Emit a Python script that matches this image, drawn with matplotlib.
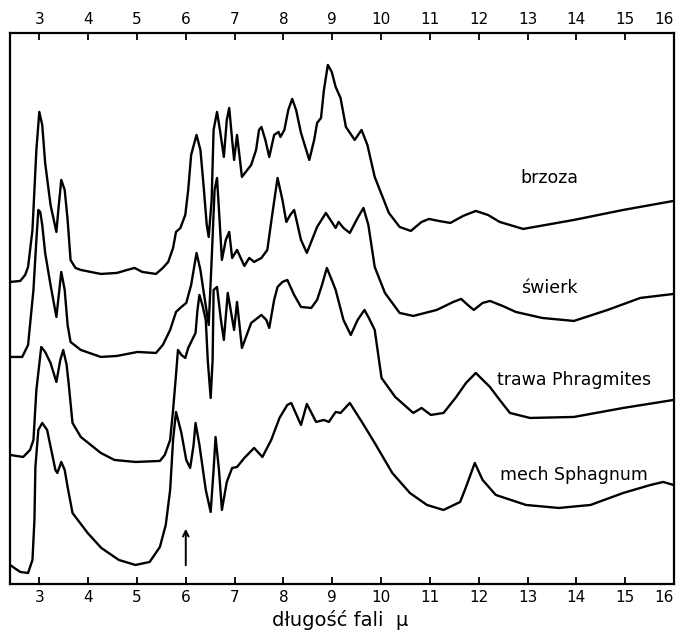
import matplotlib
matplotlib.use("Agg")
import matplotlib.pyplot as plt

# wavelength (micron) and relative height of each trace
brzoza_x = [2.40, 2.61, 2.71, 2.77, 2.86, 2.94, 3.00, 3.06, 3.12, 3.23, 3.35, 3.39, 3.45, 3.52, 3.58,
            3.64, 3.74, 3.85, 4.26, 4.59, 4.80, 4.95, 5.11, 5.39, 5.53, 5.64, 5.74, 5.80, 5.89, 5.99,
            6.05, 6.11, 6.22, 6.30, 6.36, 6.43, 6.47, 6.53, 6.57, 6.64, 6.70, 6.78, 6.84, 6.89, 6.95,
            6.99, 7.05, 7.11, 7.15, 7.34, 7.44, 7.50, 7.55, 7.63, 7.71, 7.81, 7.90, 7.94, 8.02, 8.10,
            8.18, 8.26, 8.36, 8.53, 8.63, 8.69, 8.77, 8.83, 8.91, 8.99, 9.07, 9.17, 9.28, 9.46, 9.60,
            9.72, 9.87, 10.16, 10.38, 10.61, 10.83, 10.98, 11.18, 11.42, 11.68, 11.94, 12.19, 12.43,
            12.91, 13.95, 14.96, 15.99]
brzoza_y = [302, 303, 309, 317, 354, 434, 472, 459, 421, 379, 352, 374, 404, 394, 364,
            324, 316, 314, 310, 311, 314, 316, 312, 310, 316, 322, 336, 352, 356, 369,
            394, 429, 449, 434, 401, 359, 347, 384, 454, 472, 454, 427, 464, 476, 444,
            424, 449, 424, 407, 419, 434, 454, 457, 444, 427, 449, 452, 447, 454, 474,
            485, 474, 451, 424, 444, 461, 466, 494, 519, 512, 497, 486, 457, 444, 454,
            439, 407, 371, 357, 353, 362, 365, 363, 361, 368, 373, 369, 362,
            355, 364, 374, 383]

swierk_x = [2.40, 2.65, 2.77, 2.88, 2.94, 2.98, 3.02, 3.06, 3.12, 3.23, 3.35, 3.41, 3.45, 3.52, 3.58,
            3.64, 3.85, 4.26, 4.59, 5.01, 5.39, 5.53, 5.68, 5.80, 5.91, 6.01, 6.11, 6.22, 6.30, 6.36,
            6.47, 6.53, 6.59, 6.64, 6.68, 6.74, 6.82, 6.89, 6.95, 7.05, 7.20, 7.30, 7.40, 7.55, 7.67,
            7.77, 7.88, 7.98, 8.06, 8.14, 8.22, 8.36, 8.48, 8.69, 8.87, 9.07, 9.13, 9.23, 9.36, 9.52,
            9.64, 9.74, 9.87, 10.08, 10.38, 10.66, 11.14, 11.48, 11.64, 11.80, 11.90, 12.08, 12.23,
            12.49, 12.76, 13.30, 13.95, 14.64, 15.31, 15.99]
swierk_y = [227, 227, 239, 294, 344, 374, 372, 359, 331, 299, 267, 294, 312, 294, 259,
            242, 234, 227, 228, 232, 231, 239, 254, 272, 277, 281, 299, 331, 314, 294,
            259, 324, 394, 406, 374, 324, 344, 352, 326, 334, 318, 326, 322, 326, 334,
            369, 406, 384, 362, 369, 374, 344, 331, 357, 371, 356, 362, 356, 351, 366,
            376, 359, 317, 291, 271, 268, 274, 282, 285, 278, 274, 281, 283,
            278, 272, 266, 263, 274, 286, 290]

trawa_x = [2.40, 2.67, 2.81, 2.88, 2.94, 3.04, 3.12, 3.23, 3.35, 3.43, 3.49, 3.56, 3.60, 3.68, 3.85,
           4.26, 4.54, 4.97, 5.47, 5.57, 5.68, 5.74, 5.80, 5.84, 5.91, 5.99, 6.05, 6.20, 6.24, 6.28,
           6.34, 6.41, 6.45, 6.51, 6.55, 6.57, 6.64, 6.72, 6.78, 6.86, 6.99, 7.05, 7.15, 7.34, 7.55,
           7.65, 7.71, 7.81, 7.88, 7.98, 8.08, 8.22, 8.36, 8.57, 8.69, 8.79, 8.89, 8.99, 9.07, 9.23,
           9.38, 9.52, 9.66, 9.75, 9.87, 10.01, 10.29, 10.66, 10.83, 11.02, 11.28, 11.54, 11.74,
           11.94, 12.23, 12.43, 12.64, 13.05, 13.95, 14.96, 15.99]
trawa_y = [129, 127, 134, 144, 194, 237, 232, 221, 202, 224, 234, 219, 201, 161, 147,
           131, 124, 122, 123, 129, 144, 174, 209, 234, 229, 226, 236, 251, 274, 289,
           279, 264, 224, 186, 224, 294, 297, 264, 244, 291, 254, 282, 236, 261, 269,
           264, 256, 284, 297, 302, 304, 289, 277, 276, 284, 299, 316, 304, 294, 264,
           249, 264, 274, 266, 254, 206, 187, 171, 176, 169, 171, 187, 201,
           211, 197, 184, 171, 166, 167, 176, 184]

mech_x = [2.40, 2.61, 2.77, 2.86, 2.90, 2.92, 2.98, 3.06, 3.16, 3.33, 3.37, 3.45, 3.52, 3.58, 3.68,
          3.99, 4.27, 4.63, 4.97, 5.26, 5.47, 5.59, 5.68, 5.74, 5.80, 5.91, 6.01, 6.09, 6.16, 6.20,
          6.28, 6.41, 6.51, 6.57, 6.61, 6.68, 6.74, 6.84, 6.95, 7.05, 7.20, 7.40, 7.57, 7.75, 7.92,
          8.08, 8.16, 8.36, 8.48, 8.67, 8.83, 8.93, 9.07, 9.17, 9.36, 9.62, 9.87, 10.23, 10.59,
          10.94, 11.28, 11.62, 11.74, 11.92, 12.08, 12.35, 12.97, 13.64, 14.29, 14.96, 15.52,
          15.78, 15.99]
mech_y = [19, 12, 11, 24, 64, 117, 154, 161, 154, 114, 111, 122, 114, 97, 71,
          51, 36, 24, 19, 22, 37, 59, 94, 144, 172, 151, 124, 116, 139, 161,
          139, 94, 72, 114, 147, 114, 74, 102, 116, 117, 126, 136, 127, 144, 166,
          179, 181, 159, 180, 162, 164, 162, 172, 171, 181, 161, 141, 111, 91,
          79, 74, 82, 97, 121, 104, 89, 79, 76, 79, 91, 99,
          102, 99]

names = ["brzoza", "świerk", "trawa Phragmites", "mech Sphagnum"]
ticks = list(range(3, 17))

fig = plt.figure(figsize=(6.81, 6.43), dpi=100)
ax = fig.add_axes([0.0147, 0.0918, 0.975, 0.857])

for xs, ys in [(brzoza_x, brzoza_y), (swierk_x, swierk_y), (trawa_x, trawa_y), (mech_x, mech_y)]:
    ax.plot(xs, ys, color="black", lw=1.7, solid_joinstyle="round", solid_capstyle="round")

# labels on the right, next to each trace
label_pos = [(13.45, 406), (13.45, 296), (13.95, 204), (13.95, 109)]
for name, (lx, ly) in zip(names, label_pos):
    ax.text(lx, ly, name, ha="center", va="center", fontsize=12.5, color="black")

# arrow at 6 micron
ax.annotate("", xy=(6.0, 58), xytext=(6.0, 16),
            arrowprops=dict(arrowstyle="->", color="black", lw=1.4))

ax.set_xlim(2.40, 16.0)
ax.set_ylim(0, 551)
ax.set_xticks(ticks)
ax.set_xticklabels([str(t) for t in ticks])
ax.set_yticks([])
ax.tick_params(axis="x", which="both", direction="in", length=5, width=1.3,
               top=True, labeltop=True, bottom=True, labelbottom=True,
               labelsize=11, pad=4)
for sp in ax.spines.values():
    sp.set_linewidth(1.6)

# keep the "16" labels (top and bottom) inside the figure, as on the scan
last = ax.xaxis.get_major_ticks()[-1]
last.label1.set_horizontalalignment("right")
last.label2.set_horizontalalignment("right")

fig.text(0.5, 0.02, "długość fali  μ", ha="center", va="bottom", fontsize=14)

fig.savefig("out.png", dpi=100)
